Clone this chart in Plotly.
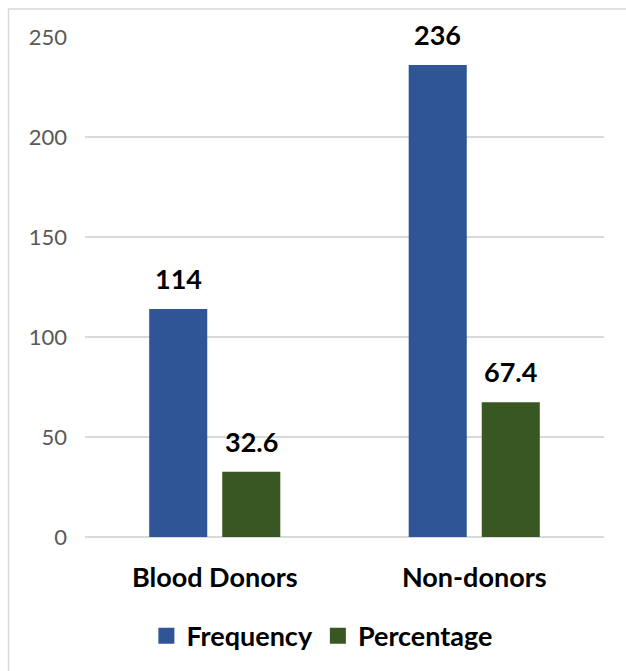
import plotly.graph_objects as go

categories = ["Blood Donors", "Non-donors"]
frequency = [114, 236]
percentage = [32.6, 67.4]
series_names = ["Frequency", "Percentage"]
y_ticks = [0, 50, 100, 150, 200, 250]

BLUE = "#2F5597"
GREEN = "#385723"
FONT = "Lato"

L, R, T, B = 85, 22, 37, 134
W, H = 626, 671
BARGAP = 0.437
GROUPGAP = 0.205

pw = W - L - R
ph = H - T - B
cat_px = pw / len(categories)
slot_px = cat_px * (1 - BARGAP) / 2

fig = go.Figure()
series = [(series_names[0], frequency, BLUE, -slot_px / 2),
          (series_names[1], percentage, GREEN, slot_px / 2)]
for name, vals, col, shift in series:
    fig.add_trace(go.Bar(
        x=categories, y=vals, name=name, marker=dict(color=col, line=dict(width=0)),
        showlegend=False,
    ))
    fig.add_trace(go.Scatter(
        x=[None], y=[None], mode="markers", name=f"<b>{name}</b>",
        marker=dict(symbol="square", size=17, color=col),
    ))
    for c, v in zip(categories, vals):
        fig.add_annotation(x=c, y=v, text=f"<b>{v:g}</b>", showarrow=False,
                           xshift=shift, yshift=12, yanchor="bottom",
                           font=dict(family=FONT, size=27, color="black"))

fig.add_shape(type="rect", xref="paper", yref="paper",
              x0=(8.5 - L) / pw, x1=2, y0=-2, y1=1 + (T - 9) / ph,
              line=dict(color="#D9D9D9", width=1.5), fillcolor="rgba(0,0,0,0)", layer="below")

fig.update_layout(
    width=W, height=H,
    margin=dict(l=L, r=R, t=T, b=B),
    paper_bgcolor="white", plot_bgcolor="white",
    barmode="group", bargap=BARGAP, bargroupgap=GROUPGAP,
    font=dict(family=FONT),
    xaxis=dict(showgrid=False, showline=False, ticks="",
               tickfont=dict(family=FONT, size=27, color="black"),
               ticklabelstandoff=22,
               tickvals=categories, ticktext=[f"<b>{c}</b>" for c in categories]),
    yaxis=dict(range=[0, 250], tickvals=y_ticks, showgrid=True, gridcolor="#D9D9D9", gridwidth=1.5,
               zeroline=True, zerolinecolor="#D9D9D9", zerolinewidth=1.5,
               showline=False, ticks="", tickfont=dict(family=FONT, size=22, color="#595959"),
               ticklabelstandoff=17),
    legend=dict(orientation="h", xref="container", x=0.515, xanchor="center",
                yref="container", y=0.052, yanchor="middle",
                font=dict(family=FONT, size=27, color="black"),
                itemclick=False),
    showlegend=True,
)

fig.write_html("out.html")
